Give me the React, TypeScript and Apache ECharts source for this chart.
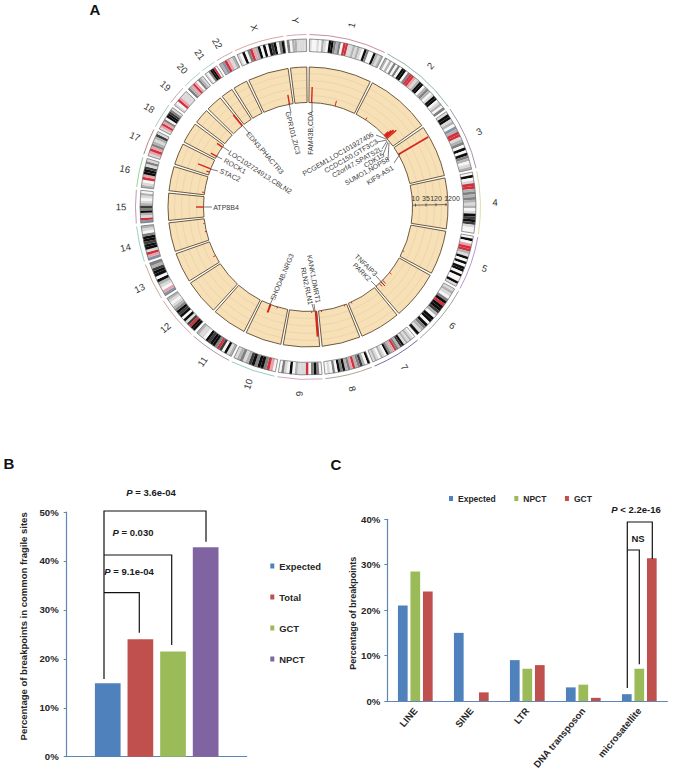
import React, { useEffect, useRef } from "react";
import * as echarts from "echarts";

const chromNames = ["1","2","3","4","5","6","7","8","9","10","11","12","13","14","15","16","17","18","19","20","21","22","X","Y"];
const chromEnds = [26.9,54.9,77.5,99.5,118.7,140,157.8,174.7,190.7,206.7,222,237.6,251,264,276.2,287.3,297.2,306.8,314,321.7,327.6,334.5,352.3,360];
const chromArcColors = ["#c98f9f","#8fb5a8","#a594a8","#e3dbab","#b794d6","#96a896","#6f6fae","#a8a894","#d4a6c6","#94ccc4","#b596a6","#d6a6a6","#cbaaa4","#96d2ca","#c496b6","#96d696","#b48686","#a6ccbc","#c4a6a6","#a6d4c4","#a6d8c8","#d4a6a6","#dca6a6","#dca6ae"];
const chromBands = [
  "lwwlwmlwkkgmgwrrllmlmlwkgwwkmlm",
  "mwmwgwgwkkwgrrplmkkwmgmwlkkwlmwg",
  "lkklmwbmrrlmgwkwkgmwlm",
  "wkwlrrmgmgmlmwlkdkdlww",
  "wkwprrmlkwkwkkwkwwkl",
  "lmlwgkrkkdmwkkwkgmlk",
  "wlmlmlkdmgrpmgkwlmwlml",
  "kwmdgmrpgmkgkwgwlw",
  "wgkgwrlllmwkwlgw",
  "wprgkkgkdmlgml",
  "mlkwdrgkkdkwllm",
  "kkrdlkwkdkgmlwlm",
  "bpwlmkwkkdmg",
  "bprlkkdkkgwlm",
  "brlmkgdmlwlmw",
  "mlwrpkkdlgl",
  "lprpgmlmdl",
  "lprpgwkkdgl",
  "lwrplll",
  "gmprpwgml",
  "lwgkkrw",
  "mbrplm",
  "lwkwgrpmkwkwkdkwgk",
  "gwmmllll",
];
const bandColors: Record<string, string> = { w: "#f6f6f6", l: "#d9d9d9", m: "#b2b2b2", g: "#808080", d: "#3c3c3c", k: "#0d0d0d", r: "#d2303c", p: "#e8a2aa", b: "#8294aa" };

// Red marks of the track: angle on the circle and outer reach on the track's scale
const markAngles = [2,15,33.4,47,47.6,48.2,49,59.8,114.8,128.8,134.5,135.8,137,155.5,159.7,172.6,175.7,178,197,201,242.3,256.5,261,270,278,289.5,291.4,299,305,321,349.8];
const markReach = [120,110,107,110,113,115,117,139,106,107,109,110,108.5,106,106,106,130,106,106,113,107,106,106,112,107,108,118,111,111,118.5,114];
const markThick = [1.4,1,1,2,2,2,1.5,1.8,1,1,1,1,1,1,1,1,2.2,1,1,2,1,1,1,1.4,1,1.2,1.4,1.4,1.4,1.8,1.4];

const trackLevels = [111.5, 119, 126.5, 133.5];
const scaleTicks = ["10", "35", "120", "1200"];
const scaleTickReach = [107.5, 118, 128, 138];

const geneNames = ["FAM43B,CDA","GPR101,ZIC3","EDN3,PHACTR3","LOC102724913,CBLN2","ROCK1","STAC2","ATP8B4","PCGEM1,LOC101927406","CCDC150,GTF3C3","C2orf47,SPATS2L","CDK15","SUMO1,NOP58","KIF9-AS1","TNFAIP3","PARK2","KANK1,DMRT1","RLN2,RLN1","SHOD4B,NRG3"];

const bCategories = [""];
const bExpected = [15];
const bTotal = [24];
const bGCT = [21.5];
const bNPCT = [42.8];

const cCategories = ["LINE","SINE","LTR","DNA transposon","microsatellite"];
const cExpected = [21,15,9,3,1.5];
const cNPCT = [28.5,0,7.1,3.6,7.1];
const cGCT = [24.1,1.9,7.9,0.7,31.4];

const SANS = "'Liberation Sans', Arial, sans-serif";
const BLUE = "#4f81bd", RED = "#c0504d", GREEN = "#9bbb59", PURPLE = "#8064a2", AXIS = "#5f87b5";

const rad = (d: number) => ((d - 90) * Math.PI) / 180;

function helpers(params: any, api: any) {
  const { cx, cy } = params.coordSys;
  const R = (r: number) => Math.hypot(api.coord([r, 45])[0] - cx, api.coord([r, 45])[1] - cy);
  return { cx, cy, R };
}

function sectorSeries(data: any[], style: (v: any, api: any) => any, z = 2) {
  return {
    type: "custom",
    coordinateSystem: "polar",
    silent: true,
    z,
    data,
    encode: { radius: 0, angle: 2 },
    renderItem(params: any, api: any) {
      const { cx, cy, R } = helpers(params, api);
      return {
        type: "sector",
        shape: { cx, cy, r0: R(api.value(0)), r: R(api.value(1)), startAngle: rad(api.value(2)), endAngle: rad(api.value(3)), clockwise: true },
        style: style(api.value(4), api),
      };
    },
  };
}

const gapDeg = 0.5;
const chromRanges = chromEnds.map((e, i) => [(i === 0 ? 0 : chromEnds[i - 1]) + gapDeg, e - gapDeg]);

const bandKeys = "wlmgdkrpb";
const bandRows: any[] = [];
chromBands.forEach((s, i) => {
  const [a0, a1] = chromRanges[i];
  const w = (a1 - a0) / s.length;
  s.split("").forEach((c, k) => bandRows.push([155.5, 168, a0 + k * w, a0 + (k + 1) * w, bandKeys.indexOf(c)]));
});

function buildGraphic() {
  // gene label layout: centre x, centre y, clockwise rotation in degrees
  const geneLayout = [
    [310,133,-90],[293,133,76],[265,153,49],[260,172,33],[235,166,29],[230,175,24],[226,207,0],
    [338,154,-30],[351,156,-30],[357,162,-29.5],[374,160,-32],[367,171,-29.5],[380,175,-32],
    [366,265,44],[362,272,45],[314,279,79.5],[307,286,78.7],[282,277,-67],
  ];
  const leaders = [
    [312,102,312,112],[289,103,291,113],[243,126,249,133],[223,147,229,151],[216,156,222,159],[210,169,218,171],[204,207,212,207],
    [376,135,386,139],[377,142,387,140],[382,149,387,141],[383,155,388,142],[388,160,389,143],[394,163,400,154],
    [376,276,385,286],[371,281,377,287],[314,304,315,311],[312,304,314,311],[269,307,273,298],
  ];
  const items: any[] = [];
  geneNames.forEach((t, i) => {
    const [x, y, r] = geneLayout[i];
    items.push({ type: "text", x, y, rotation: (-r * Math.PI) / 180, z: 10, silent: true, style: { text: t, align: "center", verticalAlign: "middle", fill: "#3a3a3a", fontSize: 7, fontFamily: SANS } });
    const l = leaders[i];
    items.push({ type: "line", z: 10, silent: true, shape: { x1: l[0], y1: l[1], x2: l[2], y2: l[3] }, style: { stroke: "#444", lineWidth: 0.7 } });
  });
  const poly = (pts: number[][]) => ({ type: "polyline", z: 10, silent: true, shape: { points: pts }, style: { stroke: "#111", fill: "none", lineWidth: 1.2 } });
  items.push(poly([[104, 679], [104, 511], [206, 511], [206, 541.7]]));
  items.push(poly([[104, 555], [171.7, 555], [171.7, 645]]));
  items.push(poly([[104, 592.7], [139.3, 592.7], [139.3, 632.7]]));
  items.push(poly([[627.3, 688], [627.3, 522], [652.3, 522], [652.3, 559]]));
  items.push(poly([[627.3, 550], [639.3, 550], [639.3, 664.3]]));
  const rich = { i: { fontStyle: "italic", fontWeight: "bold", fontSize: 9.5, fill: "#1a1a1a", fontFamily: SANS }, b: { fontWeight: "bold", fontSize: 9.5, fill: "#1a1a1a", fontFamily: SANS } };
  const ptext = (x: number, y: number, v: string) => ({ type: "text", x, y, z: 10, silent: true, style: { text: `{i|P}{b| ${v}}`, rich, align: "center", verticalAlign: "middle" } });
  items.push(ptext(151, 492, "= 3.6e-04"), ptext(133, 532, "= 0.030"), ptext(129, 571.7, "= 9.1e-04"), ptext(636, 509, "< 2.2e-16"));
  items.push({ type: "text", x: 638, y: 538.7, z: 10, silent: true, style: { text: "NS", align: "center", verticalAlign: "middle", fontWeight: "bold", fontSize: 9.5, fill: "#1a1a1a", fontFamily: SANS } });
  const letter = (x: number, y: number, t: string) => ({ type: "text", x, y, z: 10, silent: true, style: { text: t, align: "center", verticalAlign: "middle", fontWeight: "bold", fontSize: 15, fill: "#111", fontFamily: SANS } });
  items.push(letter(95, 9.5, "A"), letter(9, 463, "B"), letter(336, 464, "C"));
  return { elements: items };
}

const option: any = {
  animation: false,
  backgroundColor: "#fff",
  textStyle: { fontFamily: SANS },
  polar: { center: [308, 207], radius: [0, 175] },
  angleAxis: { type: "value", min: 0, max: 360, startAngle: 90, clockwise: true, show: false },
  radiusAxis: { type: "value", min: 0, max: 175, show: false },
  grid: [
    { left: 66.7, top: 512, width: 180, height: 244.7, containLabel: false },
    { left: 387.3, top: 519.3, width: 280, height: 181.7, containLabel: false },
  ],
  xAxis: [
    { gridIndex: 0, type: "category", data: bCategories, axisTick: { show: false }, axisLabel: { show: false }, axisLine: { lineStyle: { color: AXIS, width: 1.2 } } },
    {
      gridIndex: 1, type: "category", data: cCategories, axisTick: { show: false },
      axisLine: { lineStyle: { color: AXIS, width: 1.2 } },
      axisLabel: { rotate: 50, fontSize: 9.5, fontWeight: "bold", color: "#262626", margin: 8, padding: [4, 0, 0, 0], interval: 0, fontFamily: SANS },
    },
  ],
  yAxis: [
    {
      gridIndex: 0, type: "value", min: 0, max: 50, interval: 10,
      name: "Percentage of breakpoints in common fragile sites", nameLocation: "middle", nameGap: 38.5,
      nameTextStyle: { fontSize: 9.5, fontWeight: "bold", color: "#262626", fontFamily: SANS, padding: [0, 0, 0, 16] },
      axisLabel: { formatter: "{value}%", fontSize: 9.6, fontWeight: "bold", color: "#262626", margin: 8, fontFamily: SANS },
      splitLine: { show: false }, axisLine: { show: true, lineStyle: { color: AXIS, width: 1.2 } },
      axisTick: { show: true, length: 3, inside: false, lineStyle: { color: AXIS } },
    },
    {
      gridIndex: 1, type: "value", min: 0, max: 40, interval: 10,
      name: "Percentage of breakpoints", nameLocation: "middle", nameGap: 29,
      nameTextStyle: { fontSize: 9, fontWeight: "bold", color: "#262626", fontFamily: SANS, padding: [0, 6, 0, 0] },
      axisLabel: { formatter: "{value}%", fontSize: 9.6, fontWeight: "bold", color: "#262626", margin: 7, fontFamily: SANS },
      splitLine: { show: false }, axisLine: { show: true, lineStyle: { color: AXIS, width: 1.2 } },
      axisTick: { show: true, length: 3, lineStyle: { color: AXIS } },
    },
  ],
  legend: [
    {
      orient: "vertical", left: 270.3, top: 561.5, padding: 0, itemWidth: 4, itemHeight: 5, itemGap: 22, icon: "rect", selectedMode: false,
      textStyle: { fontSize: 9.4, fontWeight: "bold", color: "#262626", fontFamily: SANS },
      data: [
        { name: "Expected", itemStyle: { color: BLUE } },
        { name: "Total", itemStyle: { color: RED } },
        { name: "GCT", itemStyle: { color: GREEN } },
        { name: "NPCT", itemStyle: { color: PURPLE } },
      ],
    },
    {
      orient: "horizontal", left: 449, top: 494, padding: 0, itemWidth: 4, itemHeight: 5, itemGap: 18.5, icon: "rect", selectedMode: false,
      textStyle: { fontSize: 8.5, fontWeight: "bold", color: "#262626", fontFamily: SANS },
      data: [
        { name: "Expected", itemStyle: { color: BLUE } },
        { name: "NPCT", itemStyle: { color: GREEN } },
        { name: "GCT", itemStyle: { color: RED } },
      ],
    },
  ],
  series: [
    { type: "bar", name: "Expected", xAxisIndex: 0, yAxisIndex: 0, data: bExpected, barWidth: 25.7, barGap: "27%", itemStyle: { color: BLUE } },
    { type: "bar", name: "Total", xAxisIndex: 0, yAxisIndex: 0, data: bTotal, barWidth: 25.7, barGap: "27%", itemStyle: { color: RED } },
    { type: "bar", name: "GCT", xAxisIndex: 0, yAxisIndex: 0, data: bGCT, barWidth: 25.7, barGap: "27%", itemStyle: { color: GREEN } },
    { type: "bar", name: "NPCT", xAxisIndex: 0, yAxisIndex: 0, data: bNPCT, barWidth: 25.7, barGap: "27%", itemStyle: { color: PURPLE } },
    { type: "bar", name: "Expected", xAxisIndex: 1, yAxisIndex: 1, data: cExpected, barWidth: 9.7, barGap: "29%", itemStyle: { color: BLUE } },
    { type: "bar", name: "NPCT", xAxisIndex: 1, yAxisIndex: 1, data: cNPCT, barWidth: 9.7, barGap: "29%", itemStyle: { color: GREEN } },
    { type: "bar", name: "GCT", xAxisIndex: 1, yAxisIndex: 1, data: cGCT, barWidth: 9.7, barGap: "29%", itemStyle: { color: RED } },

    // chromosome outer arcs
    {
      type: "custom", coordinateSystem: "polar", silent: true, z: 2,
      data: chromRanges.map((r, i) => [172.5, 172.5, r[0], r[1], i]),
      encode: { radius: 0, angle: 2 },
      renderItem(params: any, api: any) {
        const { cx, cy, R } = helpers(params, api);
        return {
          type: "arc",
          shape: { cx, cy, r: R(api.value(0)), startAngle: rad(api.value(2)), endAngle: rad(api.value(3)), clockwise: true },
          style: { stroke: chromArcColors[api.value(4)], fill: "none", lineWidth: 1 },
        };
      },
    },
    // ideogram bands
    sectorSeries(bandRows, (v) => ({ fill: bandColors[bandKeys[v]], stroke: "none" }), 2),
    sectorSeries(chromRanges.map((r) => [155.5, 168, r[0], r[1], 0]), () => ({ fill: "none", stroke: "#6b6b6b", lineWidth: 0.7 }), 3),
    // track cells
    sectorSeries(chromRanges.map((r) => [104.5, 140, r[0], r[1], 0]), () => ({ fill: "#f7dfb6", stroke: "none" }), 2),
    // track grid arcs
    {
      type: "custom", coordinateSystem: "polar", silent: true, z: 3,
      data: trackLevels.flatMap((l) => chromRanges.map((r) => [l, l, r[0], r[1], 0])),
      encode: { radius: 0, angle: 2 },
      renderItem(params: any, api: any) {
        const { cx, cy, R } = helpers(params, api);
        return {
          type: "arc",
          shape: { cx, cy, r: R(api.value(0)), startAngle: rad(api.value(2)), endAngle: rad(api.value(3)), clockwise: true },
          style: { stroke: "#e8d5ad", fill: "none", lineWidth: 0.9 },
        };
      },
    },
    sectorSeries(chromRanges.map((r) => [104.5, 140, r[0], r[1], 0]), () => ({ fill: "none", stroke: "#5c4a30", lineWidth: 0.9 }), 4),
    // red marks
    {
      type: "custom", coordinateSystem: "polar", silent: true, z: 5,
      data: markAngles.map((a, i) => [markReach[i], a, markThick[i]]),
      encode: { radius: 0, angle: 1 },
      renderItem(_p: any, api: any) {
        const a = api.value(1);
        const p0 = api.coord([104.5, a]);
        const p1 = api.coord([api.value(0), a]);
        return { type: "line", shape: { x1: p0[0], y1: p0[1], x2: p1[0], y2: p1[1] }, style: { stroke: "#d7261e", lineWidth: api.value(2) } };
      },
    },
    // chromosome labels
    {
      type: "custom", coordinateSystem: "polar", silent: true, z: 5,
      data: chromRanges.map((r, i) => [187, (r[0] + r[1]) / 2, i]),
      encode: { radius: 0, angle: 1 },
      renderItem(_p: any, api: any) {
        const a = api.value(1);
        const p = api.coord([api.value(0), a]);
        const deg = a <= 180 ? 90 - a : 270 - a;
        return {
          type: "text", x: p[0], y: p[1], rotation: (deg * Math.PI) / 180,
          style: { text: chromNames[api.value(2)], align: "center", verticalAlign: "middle", fill: "#333", fontSize: 9.5, fontFamily: SANS },
        };
      },
    },
    // scale of the track
    {
      type: "custom", coordinateSystem: "polar", silent: true, z: 6,
      data: scaleTickReach.map((r, i) => [r, 89, i]),
      encode: { radius: 0, angle: 1 },
      renderItem(_p: any, api: any) {
        const p = api.coord([api.value(0), api.value(1)]);
        return {
          type: "group",
          children: [
            { type: "line", shape: { x1: p[0], y1: p[1] - 1.5, x2: p[0], y2: p[1] + 1.5 }, style: { stroke: "#333", lineWidth: 0.7 } },
            { type: "text", x: p[0] + (api.value(2) === 3 ? 6 : 0), y: p[1] - 6.5, style: { text: scaleTicks[api.value(2)], align: "center", verticalAlign: "middle", fill: "#333", fontSize: 7, fontFamily: SANS } },
          ],
        };
      },
    },
    {
      type: "custom", coordinateSystem: "polar", silent: true, z: 6,
      data: [[104.5, 89, 139]],
      encode: { radius: 0, angle: 1 },
      renderItem(_p: any, api: any) {
        const a = api.coord([api.value(0), api.value(1)]);
        const b = api.coord([api.value(2), api.value(1)]);
        return { type: "line", shape: { x1: a[0], y1: a[1], x2: b[0], y2: b[1] }, style: { stroke: "#333", lineWidth: 0.7 } };
      },
    },
  ],
  graphic: buildGraphic(),
};

export default function App() {
  const ref = useRef<HTMLDivElement>(null);
  useEffect(() => {
    const chart = echarts.init(ref.current!, undefined, { renderer: "svg" });
    chart.setOption(option);
    return () => chart.dispose();
  }, []);
  return <div ref={ref} style={{ position: "absolute", left: 0, top: 0, width: 673, height: 773 }} />;
}
